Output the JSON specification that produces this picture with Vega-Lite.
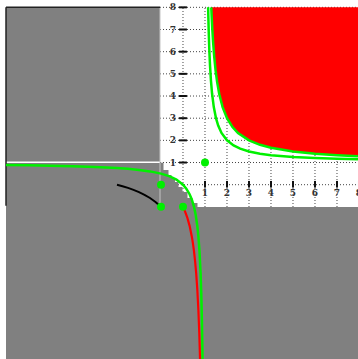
{
  "$schema": "https://vega.github.io/schema/vega-lite/v6.json",
  "width": 358,
  "height": 359,
  "autosize": {"type": "none"},
  "padding": 0,
  "background": "white",
  "config": {"view": {"stroke": null}},
  "datasets": {
    "vgrid": [{"x": 0, "y": -1.006, "y2": 8}, {"x": 1, "y": -1.006, "y2": 8}, {"x": 2, "y": -1.006, "y2": 8}, {"x": 3, "y": -1.006, "y2": 8}, {"x": 4, "y": -1.006, "y2": 8}, {"x": 5, "y": -1.006, "y2": 8}, {"x": 6, "y": -1.006, "y2": 8}, {"x": 7, "y": -1.006, "y2": 8}, {"x": 8, "y": -1.006, "y2": 8}],
    "hgrid": [{"y": 0, "x": -1.045, "x2": 8.1}, {"y": 1, "x": -1.045, "x2": 8.1}, {"y": 2, "x": -1.045, "x2": 8.1}, {"y": 3, "x": -1.045, "x2": 8.1}, {"y": 4, "x": -1.045, "x2": 8.1}, {"y": 5, "x": -1.045, "x2": 8.1}, {"y": 6, "x": -1.045, "x2": 8.1}, {"y": 7, "x": -1.045, "x2": 8.1}, {"y": 8, "x": -1.045, "x2": 8.1}],
    "yticks": [{"y": 1, "x": -0.18, "x2": 0.18, "t": "1"}, {"y": 2, "x": -0.18, "x2": 0.18, "t": "2"}, {"y": 3, "x": -0.18, "x2": 0.18, "t": "3"}, {"y": 4, "x": -0.18, "x2": 0.18, "t": "4"}, {"y": 5, "x": -0.18, "x2": 0.18, "t": "5"}, {"y": 6, "x": -0.18, "x2": 0.18, "t": "6"}, {"y": 7, "x": -0.18, "x2": 0.18, "t": "7"}, {"y": 8, "x": -0.18, "x2": 0.18, "t": "8"}],
    "xticks": [{"x": 1, "y": 0.17, "y2": -0.13, "t": "1"}, {"x": 2, "y": 0.17, "y2": -0.13, "t": "2"}, {"x": 3, "y": 0.17, "y2": -0.13, "t": "3"}, {"x": 4, "y": 0.17, "y2": -0.13, "t": "4"}, {"x": 5, "y": 0.17, "y2": -0.13, "t": "5"}, {"x": 6, "y": 0.17, "y2": -0.13, "t": "6"}, {"x": 7, "y": 0.17, "y2": -0.13, "t": "7"}, {"x": 8, "y": 0.17, "y2": -0.13, "t": "8"}],
    "c1upper": [{"x": 1.1429, "y": 8.0}, {"x": 1.15, "y": 7.667}, {"x": 1.17, "y": 6.882}, {"x": 1.2, "y": 6.0}, {"x": 1.23, "y": 5.348}, {"x": 1.27, "y": 4.704}, {"x": 1.32, "y": 4.125}, {"x": 1.4, "y": 3.5}, {"x": 1.5, "y": 3.0}, {"x": 1.6, "y": 2.667}, {"x": 1.75, "y": 2.333}, {"x": 2.0, "y": 2.0}, {"x": 2.3, "y": 1.769}, {"x": 2.6, "y": 1.625}, {"x": 3.0, "y": 1.5}, {"x": 3.5, "y": 1.4}, {"x": 4.0, "y": 1.333}, {"x": 5.0, "y": 1.25}, {"x": 6.0, "y": 1.2}, {"x": 7.0, "y": 1.1667}, {"x": 7.955, "y": 1.1438}],
    "c2upper": [{"x": 1.2857, "y": 8.0}, {"x": 1.3, "y": 7.667}, {"x": 1.33, "y": 7.061}, {"x": 1.37, "y": 6.405}, {"x": 1.42, "y": 5.762}, {"x": 1.48, "y": 5.167}, {"x": 1.55, "y": 4.636}, {"x": 1.65, "y": 4.077}, {"x": 1.8, "y": 3.5}, {"x": 2.0, "y": 3.0}, {"x": 2.25, "y": 2.6}, {"x": 2.5, "y": 2.333}, {"x": 3.0, "y": 2.0}, {"x": 3.5, "y": 1.8}, {"x": 4.0, "y": 1.667}, {"x": 5.0, "y": 1.5}, {"x": 6.0, "y": 1.4}, {"x": 7.0, "y": 1.333}, {"x": 7.955, "y": 1.2876}],
    "c1lower": [{"x": -8.045, "y": 0.8894}, {"x": -7, "y": 0.875}, {"x": -6, "y": 0.8571}, {"x": -5, "y": 0.8333}, {"x": -4, "y": 0.8}, {"x": -3, "y": 0.75}, {"x": -2.5, "y": 0.7143}, {"x": -2, "y": 0.6667}, {"x": -1.5, "y": 0.6}, {"x": -1, "y": 0.5}, {"x": -0.6, "y": 0.375}, {"x": -0.3, "y": 0.2308}, {"x": 0, "y": 0}, {"x": 0.15, "y": -0.1765}, {"x": 0.3, "y": -0.4286}, {"x": 0.4, "y": -0.6667}, {"x": 0.5, "y": -1}, {"x": 0.58, "y": -1.381}, {"x": 0.65, "y": -1.857}, {"x": 0.7, "y": -2.333}, {"x": 0.75, "y": -3}, {"x": 0.8, "y": -4}, {"x": 0.83, "y": -4.882}, {"x": 0.86, "y": -6.143}, {"x": 0.88, "y": -7.333}, {"x": 0.8875, "y": -7.889}],
    "c2lower": [{"x": 0, "y": -1}, {"x": 0.1, "y": -1.2222}, {"x": 0.2, "y": -1.5}, {"x": 0.3, "y": -1.8571}, {"x": 0.4, "y": -2.3333}, {"x": 0.45, "y": -2.6364}, {"x": 0.5, "y": -3}, {"x": 0.55, "y": -3.4444}, {"x": 0.6, "y": -4}, {"x": 0.65, "y": -4.7143}, {"x": 0.7, "y": -5.6667}, {"x": 0.74, "y": -6.6923}, {"x": 0.775, "y": -7.8889}],
    "c4lower": [{"x": -3, "y": 0}, {"x": -2.75, "y": -0.0667}, {"x": -2.5, "y": -0.1429}, {"x": -2.25, "y": -0.2308}, {"x": -2, "y": -0.3333}, {"x": -1.75, "y": -0.4545}, {"x": -1.5, "y": -0.6}, {"x": -1.25, "y": -0.7778}, {"x": -1, "y": -1}],
    "grayrects": [{"x": -8.045, "x2": -1.045, "y": 8.0, "y2": 1.015}, {"x": -8.045, "x2": -1.045, "y": 1.015, "y2": -1.006}, {"x": -8.045, "x2": 8.1, "y": -1.006, "y2": -8.0}],
    "jag": [{"x": -1.045, "y": 0.99}, {"x": -0.727, "y": 0.663}, {"x": -0.591, "y": 0.438}, {"x": -0.455, "y": 0.302}, {"x": -0.273, "y": 0.122}, {"x": -0.136, "y": -0.104}, {"x": 0.091, "y": -0.329}, {"x": 0.318, "y": -0.6}, {"x": 0.545, "y": -0.825}, {"x": 0.773, "y": -1.006}],
    "dots": [{"x": 1, "y": 1}, {"x": -1, "y": 0}, {"x": -1, "y": -1}, {"x": 0, "y": -1}]
  },
  "encoding": {
    "x": {"field": "x", "type": "quantitative", "scale": {"domain": [-8.318, 7.955], "nice": false, "zero": false}, "axis": null},
    "y": {"field": "y", "type": "quantitative", "scale": {"domain": [-7.862, 8.331], "nice": false, "zero": false}, "axis": null}
  },
  "layer": [
    {"data": {"name": "vgrid"}, "mark": {"type": "rule", "color": "#444444", "strokeWidth": 1, "strokeDash": [1, 2], "clip": true}, "encoding": {"y2": {"field": "y2"}}},
    {"data": {"name": "hgrid"}, "mark": {"type": "rule", "color": "#444444", "strokeWidth": 1, "strokeDash": [1, 2], "clip": true}, "encoding": {"x2": {"field": "x2"}}},
    {"data": {"name": "c2upper"}, "mark": {"type": "area", "color": "#ff0000", "clip": true}, "encoding": {"y2": {"datum": 8.0}}},
    {"data": {"name": "yticks"}, "mark": {"type": "rule", "color": "#111111", "strokeWidth": 2}, "encoding": {"x2": {"field": "x2"}}},
    {"data": {"name": "xticks"}, "mark": {"type": "rule", "color": "#111111", "strokeWidth": 2}, "encoding": {"y2": {"field": "y2"}}},
    {"data": {"name": "yticks"}, "mark": {"type": "text", "font": "DejaVu Serif", "fontSize": 9, "fontWeight": "bold", "color": "#333333", "align": "center", "baseline": "middle"}, "encoding": {"x": {"datum": -0.455}, "text": {"field": "t"}}},
    {"data": {"name": "xticks"}, "mark": {"type": "text", "font": "DejaVu Serif", "fontSize": 9, "fontWeight": "bold", "color": "#333333", "align": "center", "baseline": "middle"}, "encoding": {"y": {"datum": -0.38}, "text": {"field": "t"}}},
    {"data": {"name": "c1upper"}, "mark": {"type": "line", "color": "#00f000", "strokeWidth": 2.5, "clip": true}},
    {"data": {"name": "c2upper"}, "mark": {"type": "line", "color": "#00f000", "strokeWidth": 2.5, "clip": true}},
    {"data": {"name": "grayrects"}, "mark": {"type": "rect", "color": "#808080", "clip": true}, "encoding": {"x2": {"field": "x2"}, "y2": {"field": "y2"}}},
    {"data": {"name": "jag"}, "mark": {"type": "area", "color": "#808080", "interpolate": "step"}, "encoding": {"y2": {"datum": -1.006}}},
    {"data": {"values": [{"x": -8.045, "x2": -1.045, "y": 1.015}]}, "mark": {"type": "rule", "color": "#ffffff", "strokeWidth": 1.5}, "encoding": {"x2": {"field": "x2"}}},
    {"data": {"values": [{"x": -1.045, "y": 8.0, "y2": -1.006}]}, "mark": {"type": "rule", "color": "#c4c4c4", "strokeWidth": 1}, "encoding": {"y2": {"field": "y2"}}},
    {"data": {"values": [{"x": -8.045, "y": 8.0, "y2": -0.95}]}, "mark": {"type": "rule", "color": "#222222", "strokeWidth": 1.5}, "encoding": {"y2": {"field": "y2"}}},
    {"data": {"values": [{"x": -8.045, "x2": -1.045, "y": 8.0}]}, "mark": {"type": "rule", "color": "#222222", "strokeWidth": 1.5}, "encoding": {"x2": {"field": "x2"}}},
    {"data": {"name": "c1lower"}, "mark": {"type": "line", "color": "#00f000", "strokeWidth": 2.5, "clip": true}},
    {"data": {"name": "c2lower"}, "mark": {"type": "line", "color": "#ff0000", "strokeWidth": 2.2, "clip": true}},
    {"data": {"name": "c4lower"}, "mark": {"type": "line", "color": "#000000", "strokeWidth": 2, "clip": true}},
    {"data": {"name": "dots"}, "mark": {"type": "circle", "color": "#00f000", "opacity": 1, "size": 64}}
  ]
}
